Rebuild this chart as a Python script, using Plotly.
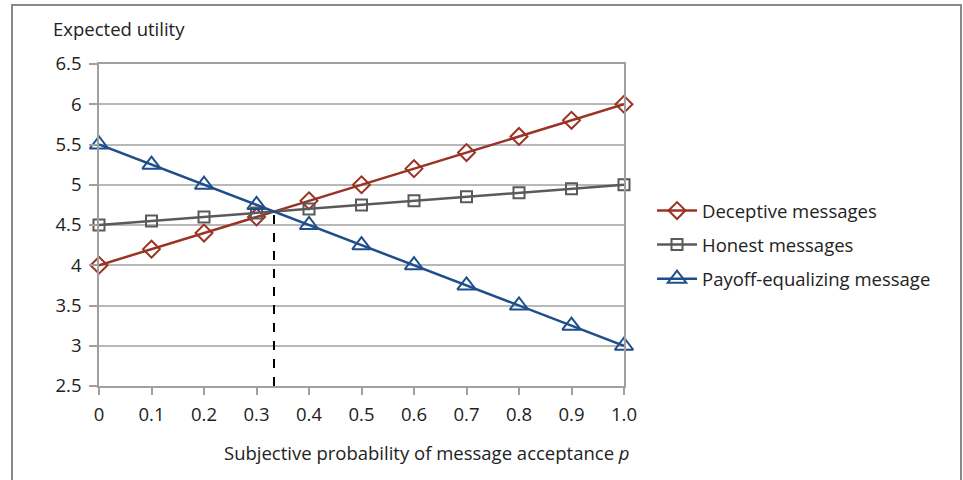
import plotly.graph_objects as go

p_values = [0, 0.1, 0.2, 0.3, 0.4, 0.5, 0.6, 0.7, 0.8, 0.9, 1.0]
p_labels = ["0", "0.1", "0.2", "0.3", "0.4", "0.5", "0.6", "0.7", "0.8", "0.9", "1.0"]
deceptive = [4.0, 4.2, 4.4, 4.6, 4.8, 5.0, 5.2, 5.4, 5.6, 5.8, 6.0]
honest = [4.5, 4.55, 4.6, 4.65, 4.7, 4.75, 4.8, 4.85, 4.9, 4.95, 5.0]
payoff_eq = [5.5, 5.25, 5.0, 4.75, 4.5, 4.25, 4.0, 3.75, 3.5, 3.25, 3.0]
y_ticks = [2.5, 3, 3.5, 4, 4.5, 5, 5.5, 6, 6.5]
y_labels = ["2.5", "3", "3.5", "4", "4.5", "5", "5.5", "6", "6.5"]
cross_p = 1 / 3
cross_u = 4.667

FONT = "'Open Sans', Lato, sans-serif"
FS = 18.5
W, H = 963, 480
L, R, T, B = 99, 339, 64, 94
pw, ph = W - L - R, H - T - B

def px_x(x):
    return (x - L) / pw

def px_y(y):
    return (H - B - y) / ph

fig = go.Figure()
series = [
    ("Deceptive messages", deceptive, "#9A3324", "diamond-open", 13),
    ("Honest messages", honest, "#5A5A5A", "square-open", 11),
    ("Payoff-equalizing message", payoff_eq, "#1F4E8C", "triangle-up-open", 16),
]
for name, vals, col, sym, sz in series:
    fig.add_trace(go.Scatter(
        x=p_values, y=vals, name=name, mode="lines+markers", legendgroup=name,
        line=dict(color=col, width=2.5), cliponaxis=False,
        marker=dict(symbol=sym, size=sz, color=col, line=dict(color=col, width=2)),
    ))

fig.add_trace(go.Scatter(
    x=[cross_p, cross_p], y=[2.5, cross_u], mode="lines",
    line=dict(color="black", width=2, dash="dash"), showlegend=False, hoverinfo="skip",
))

fig.update_layout(
    width=W, height=H,
    margin=dict(l=L, r=R, t=T, b=B),
    paper_bgcolor="white", plot_bgcolor="white",
    font=dict(family=FONT, size=FS, color="#222"),
    showlegend=True,
    legend=dict(x=px_x(652), y=px_y(245), xanchor="left", yanchor="middle",
                font=dict(size=FS, color="#222"), itemwidth=40,
                traceorder="grouped", tracegroupgap=7,
                bgcolor="rgba(0,0,0,0)"),
    xaxis=dict(range=[0, 1], tickvals=p_values, ticktext=p_labels,
               showgrid=False, showline=True, linecolor="#A0A0A0", linewidth=1.5,
               ticks="outside", ticklen=7, tickcolor="#A0A0A0", tickwidth=1.5,
               ticklabelstandoff=4,
               mirror=True, zeroline=False),
    yaxis=dict(range=[2.5, 6.5], tickvals=y_ticks, ticktext=y_labels,
               showgrid=True, gridcolor="#B8B8B8", gridwidth=1.5,
               showline=True, linecolor="#A0A0A0", linewidth=1.5, mirror=True,
               ticks="outside", ticklen=8, tickcolor="#A0A0A0", tickwidth=1.5,
               ticklabelstandoff=4,
               zeroline=False),
)

fig.add_annotation(text="Expected utility", xref="paper", yref="paper",
                   x=px_x(51), y=px_y(28), xanchor="left", yanchor="middle",
                   showarrow=False, font=dict(size=FS, color="#222"))

fig.add_annotation(text="Subjective probability of message acceptance <i>p</i>",
                   xref="paper", yref="paper",
                   x=px_x(427), y=px_y(452), xanchor="center", yanchor="middle",
                   showarrow=False, font=dict(size=FS, color="#222"))

fig.add_shape(type="rect", xref="paper", yref="paper",
              x0=px_x(12), x1=px_x(961), y0=px_y(500), y1=px_y(5),
              line=dict(color="#888888", width=2), fillcolor="rgba(0,0,0,0)", layer="below")

fig.write_html("out.html")
